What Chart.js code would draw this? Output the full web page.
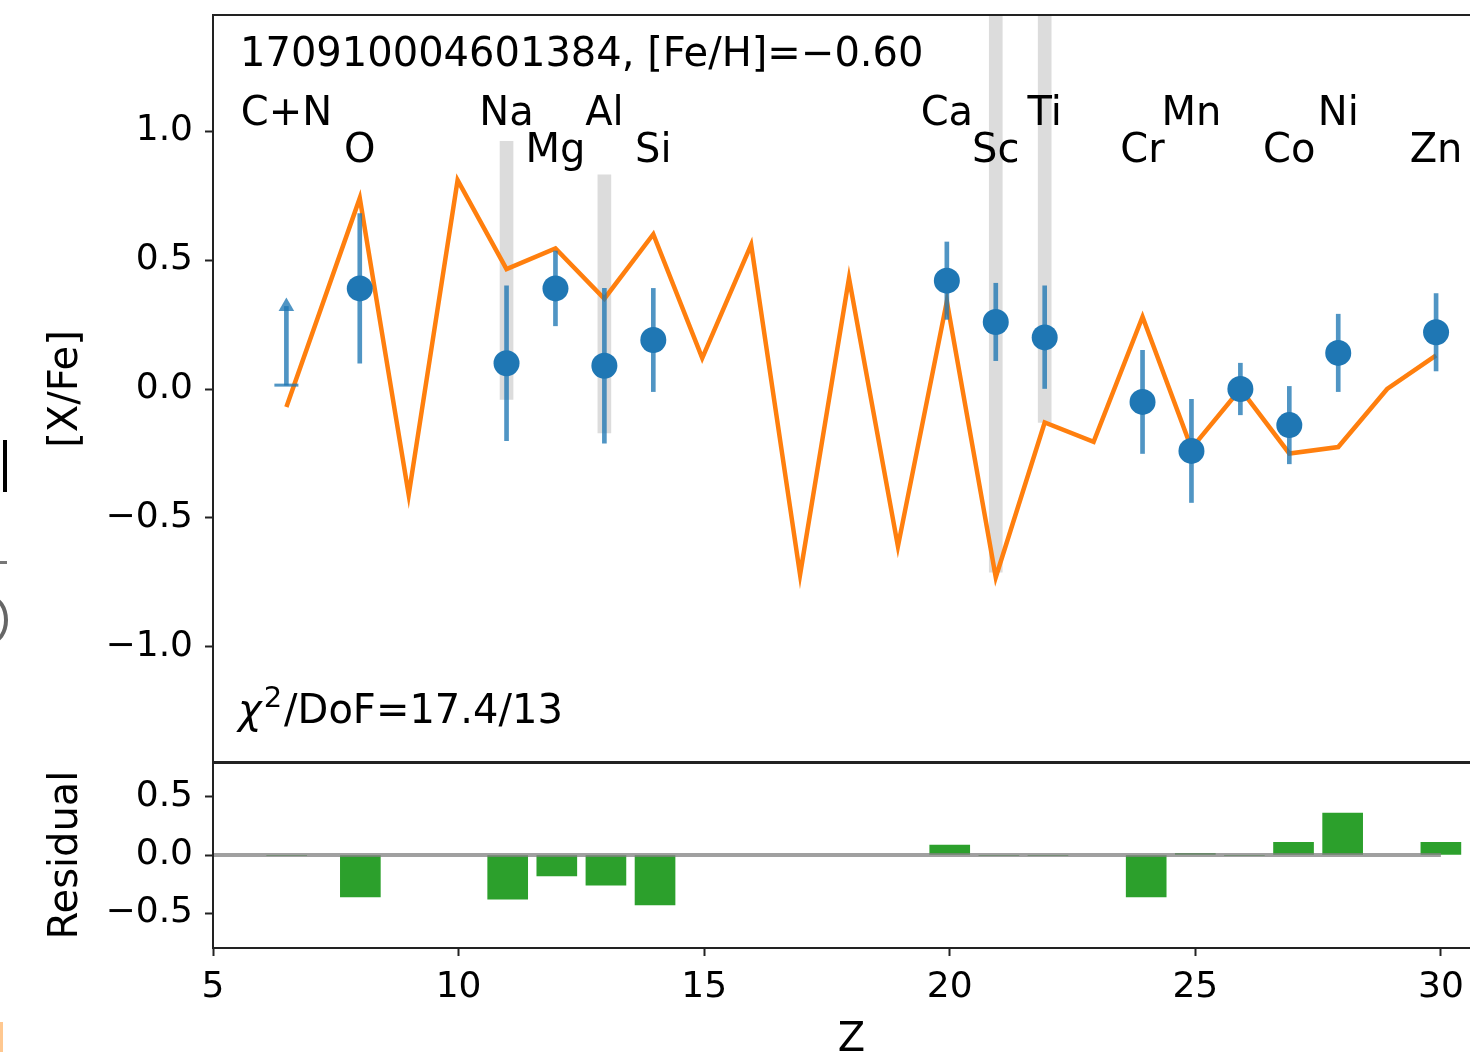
<!DOCTYPE html>
<html>
<head>
<meta charset="utf-8">
<title>[X/Fe] pattern</title>
<script src="https://cdn.jsdelivr.net/npm/chart.js@4.4.1/dist/chart.umd.min.js"></script>
<style>
  html, body { margin: 0; padding: 0; background: #fff; overflow: hidden; }
  #wrap { position: relative; width: 1470px; height: 1052px; overflow: hidden; background: #fff; }
  canvas { position: absolute; left: 0; }
  #top { top: 0; }
  #res { top: 740px; }
  .scrap { position: absolute; }
</style>
</head>
<body>
<div id="wrap">
  <canvas id="top" width="1500" height="778"></canvas>
  <canvas id="res" width="1500" height="340"></canvas>
  <!-- bits of the neighbouring panel that show at the left edge -->
  <div class="scrap" style="left:3px;top:440px;width:4px;height:52px;background:#000"></div>
  <div class="scrap" style="left:0;top:561px;width:7px;height:3px;background:#777"></div>
  <div class="scrap" style="left:-26px;top:596px;width:26px;height:40px;border:4px solid #666;border-radius:50%"></div>
  <div class="scrap" style="left:0;top:1022px;width:3px;height:30px;background:#ffc890"></div>
</div>
<script>
// header texts
const titleText = '170910004601384, [Fe/H]=\u22120.60';
const chiText = '/DoF=17.4/13';

// model curve
const modelZ = [6.5, 8, 9, 10, 11, 12, 13, 14, 15, 16, 17, 18, 19, 20, 21, 22, 23, 24, 25, 26, 27, 28, 29, 30];
const modelVal = [-0.07, 0.74, -0.41, 0.81, 0.465, 0.545, 0.35, 0.60, 0.12, 0.56, -0.72, 0.43, -0.61, 0.34, -0.73, -0.13, -0.205, 0.28, -0.23, 0.0, -0.25, -0.225, 0.0, 0.13];

// measured abundances
const obsZ = [8, 11, 12, 13, 14, 20, 21, 22, 24, 25, 26, 27, 28, 30];
const obsVal = [0.39, 0.10, 0.39, 0.09, 0.19, 0.42, 0.26, 0.20, -0.05, -0.24, 0.00, -0.14, 0.14, 0.22];
const obsErr = [0.29, 0.30, 0.145, 0.30, 0.20, 0.15, 0.15, 0.20, 0.20, 0.20, 0.10, 0.15, 0.15, 0.15];

// lower limit (C+N)
const limZ = [6.5];
const limVal = [0.015];
const limErr = [0.305];

// grey model ranges
const bandZ = [11, 13, 21, 22];
const bandLow = [-0.04, -0.17, -0.71, -0.13];
const bandHigh = [0.96, 0.83, 1.6, 1.6];

// element labels
const elemNames = ['C+N', 'O', 'Na', 'Mg', 'Al', 'Si', 'Ca', 'Sc', 'Ti', 'Cr', 'Mn', 'Co', 'Ni', 'Zn'];
const elemZ = [6.5, 8, 11, 12, 13, 14, 20, 21, 22, 24, 25, 27, 28, 30];

// residuals
const resZ = [6.5, 8, 11, 12, 13, 14, 20, 21, 22, 24, 25, 26, 27, 28, 30];
const resVal = [-0.006, -0.36, -0.38, -0.18, -0.26, -0.43, 0.086, -0.006, -0.006, -0.36, 0.015, -0.006, 0.11, 0.36, 0.11];
const zeroZ = [5, 30];

// ticks
const yTicks = [-1.0, -0.5, 0.0, 0.5, 1.0];
const resTicks = [-0.5, 0.0, 0.5];
const zTicks = [5, 10, 15, 20, 25, 30];

Chart.defaults.font.family = "'DejaVu Sans', sans-serif";
Chart.defaults.color = '#000';
Chart.defaults.animation = false;

const blue = '#1f77b4';
const blueBar = 'rgba(31,119,180,0.78)';
const orange = '#ff7f0e';
const green = '#2ca02c';
const ink = '#222';
const labelRows = [1.024, 0.88];

const fmt = v => (v < 0 ? '\u2212' : '') + Math.abs(v).toFixed(1);

const frame = {
  id: 'frame',
  afterDraw(chart) {
    const a = chart.chartArea, c = chart.ctx;
    c.save();
    c.strokeStyle = ink;
    c.lineWidth = 2;
    c.strokeRect(a.left, a.top, a.right - a.left, a.bottom - a.top);
    c.restore();
  }
};

const panelText = {
  id: 'panelText',
  afterDatasetsDraw(chart) {
    const {ctx, chartArea, scales} = chart;
    ctx.save();
    ctx.fillStyle = '#000';
    ctx.font = "40px 'DejaVu Sans'";
    ctx.textBaseline = 'alphabetic';
    ctx.textAlign = 'left';
    ctx.fillText(titleText, chartArea.left + 27, chartArea.top + 51);

    ctx.textAlign = 'center';
    elemNames.forEach((name, i) => {
      ctx.fillText(name, scales.x.getPixelForValue(elemZ[i]), scales.y.getPixelForValue(labelRows[i % 2]));
    });

    // chi^2 line
    ctx.textAlign = 'left';
    let x = chartArea.left + 25;
    const base = chartArea.bottom - 40;
    ctx.font = "italic 40px 'DejaVu Sans'";
    ctx.fillText('\u03c7', x, base);
    x += ctx.measureText('\u03c7').width + 2;
    ctx.font = "29px 'DejaVu Sans'";
    ctx.fillText('2', x, base - 16);
    x += ctx.measureText('2').width + 2;
    ctx.font = "40px 'DejaVu Sans'";
    ctx.fillText(chiText, x, base);
    ctx.restore();
  }
};

const tickGrid = {drawOnChartArea: false, drawTicks: true, offset: false, tickLength: 8, tickWidth: 2, tickColor: ink};

function yAxis(min, max, ticks, title) {
  return {
    type: 'linear',
    min: min,
    max: max,
    afterFit: s => { s.width = 213; s.paddingTop = 0; s.paddingBottom = 0; },
    afterBuildTicks: s => { s.ticks = ticks.map(v => ({value: v})); },
    grid: tickGrid,
    border: {display: false},
    ticks: {font: {size: 36}, padding: 12, callback: v => fmt(v)},
    title: {display: true, text: title, font: {size: 40}, padding: {top: 43, bottom: 0}}
  };
}

new Chart(document.getElementById('top'), {
  type: 'line',
  data: {
    datasets: [
      {
        type: 'bar',
        data: bandZ.map((z, i) => ({x: z, y: [bandLow[i], bandHigh[i]]})),
        backgroundColor: '#dcdcdc',
        barThickness: 13,
        grouped: false,
        order: 6
      },
      {
        type: 'line',
        data: modelZ.map((z, i) => ({x: z, y: modelVal[i]})),
        borderColor: orange,
        borderWidth: 4.5,
        pointRadius: 0,
        tension: 0,
        fill: false,
        order: 5
      },
      {
        type: 'bar',
        data: obsZ.map((z, i) => ({x: z, y: [obsVal[i] - obsErr[i], obsVal[i] + obsErr[i]]})),
        backgroundColor: blueBar,
        barThickness: 4,
        grouped: false,
        order: 3
      },
      {
        type: 'bar',
        data: limZ.map((z, i) => ({x: z, y: [limVal[i], limVal[i] + limErr[i]]})),
        backgroundColor: blueBar,
        barThickness: 4,
        grouped: false,
        order: 3
      },
      {
        type: 'scatter',
        data: limZ.map((z, i) => ({x: z, y: limVal[i]})),
        pointStyle: 'line',
        pointRadius: 12,
        borderColor: blueBar,
        borderWidth: 3,
        order: 3
      },
      {
        type: 'scatter',
        data: limZ.map((z, i) => ({x: z, y: limVal[i] + limErr[i]})),
        pointStyle: 'triangle',
        pointRadius: 9,
        backgroundColor: blueBar,
        borderWidth: 0,
        order: 3
      },
      {
        type: 'scatter',
        data: obsZ.map((z, i) => ({x: z, y: obsVal[i]})),
        pointRadius: 13,
        backgroundColor: blue,
        borderWidth: 0,
        order: 1
      }
    ]
  },
  options: {
    responsive: false,
    events: [],
    layout: {padding: {top: 14, right: 10, bottom: 0, left: 0}},
    plugins: {legend: {display: false}, tooltip: {enabled: false}},
    scales: {
      x: {type: 'linear', min: 5, max: 31, offset: false, display: false},
      y: yAxis(-1.45, 1.45, yTicks, '[X/Fe]')
    }
  },
  plugins: [panelText, frame]
});

new Chart(document.getElementById('res'), {
  type: 'line',
  data: {
    datasets: [
      {
        type: 'bar',
        data: resZ.map((z, i) => ({x: z, y: resVal[i]})),
        backgroundColor: green,
        barThickness: 40,
        grouped: false,
        order: 2
      },
      {
        type: 'line',
        data: zeroZ.map(z => ({x: z, y: 0})),
        borderColor: 'rgba(128,128,128,0.75)',
        borderWidth: 4,
        pointRadius: 0,
        order: 1
      }
    ]
  },
  options: {
    responsive: false,
    events: [],
    layout: {padding: {top: 22, right: 10, bottom: 0, left: 0}},
    plugins: {legend: {display: false}, tooltip: {enabled: false}},
    scales: {
      x: {
        type: 'linear',
        min: 5,
        max: 31,
        offset: false,
        afterFit: s => { s.height = 132; s.paddingLeft = 0; s.paddingRight = 0; },
        afterBuildTicks: s => { s.ticks = zTicks.map(v => ({value: v})); },
        grid: tickGrid,
        border: {display: false},
        ticks: {font: {size: 36}, padding: 10, autoSkip: false, maxRotation: 0, callback: v => String(v)},
        title: {display: true, text: 'Z', font: {size: 40}, padding: {top: 0, bottom: 15}}
      },
      y: yAxis(-0.8, 0.8, resTicks, 'Residual')
    }
  },
  plugins: [frame]
});
</script>
</body>
</html>
